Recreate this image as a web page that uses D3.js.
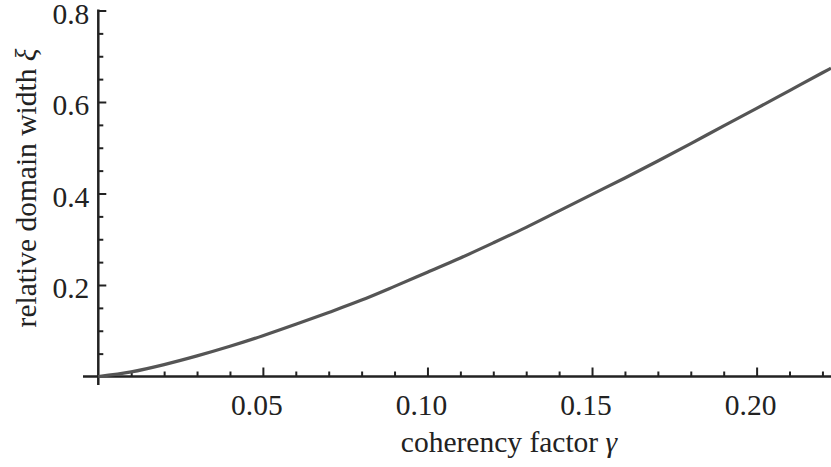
<!DOCTYPE html>
<html>
<head>
<meta charset="utf-8">
<script src="https://cdn.jsdelivr.net/npm/d3@7"></script>
<style>
  body { margin: 0; background: #fff; }
</style>
</head>
<body>
<div class="my-graph"></div>
<script>
// values
const gamma = [0, 0.01, 0.02, 0.03, 0.04, 0.05, 0.06, 0.07, 0.08, 0.09, 0.10, 0.11,
  0.12, 0.13, 0.14, 0.15, 0.16, 0.17, 0.18, 0.19, 0.20, 0.21, 0.22, 0.2226]
const xi = [0, 0.010, 0.026, 0.045, 0.066, 0.089, 0.114, 0.140, 0.167, 0.197, 0.228, 0.259,
  0.292, 0.326, 0.362, 0.398, 0.434, 0.471, 0.509, 0.548, 0.586, 0.625, 0.664, 0.674]

const xMajor = [0.05, 0.10, 0.15, 0.20]
const xMinor = [0.01, 0.02, 0.03, 0.04, 0.06, 0.07, 0.08, 0.09, 0.11, 0.12, 0.13, 0.14,
  0.16, 0.17, 0.18, 0.19, 0.21, 0.22]
const yMajor = [0.2, 0.4, 0.6, 0.8]
const yMinor = [0.05, 0.1, 0.15, 0.25, 0.3, 0.35, 0.45, 0.5, 0.55, 0.65, 0.7, 0.75]

const xTitle = 'coherency factor '
const yTitle = 'relative domain width '

const width = 831
const height = 467
const font = 'Liberation Serif'
const fontSize = 29.5
const textColor = '#222'

const dataset = gamma.map((g, i) => ({ x: g, y: xi[i] }))

const xScale = d3.scaleLinear()
  .domain([0, 0.2226])
  .range([98.3, 831])

const yScale = d3.scaleLinear()
  .domain([0, 0.8])
  .range([376.5, 10.5])

const svg = d3.select('.my-graph')
  .append('svg')
  .attr('width', width)
  .attr('height', height)

const axisColor = '#222'

// x axis: inward ticks
const gx = svg.append('g').attr('transform', `translate(0, ${yScale(0)})`)
gx.append('line')
  .attr('x1', 83).attr('x2', width)
  .attr('stroke', axisColor).attr('stroke-width', 2.5)
gx.append('g')
  .call(d3.axisTop(xScale).tickValues(xMinor).tickSize(5).tickFormat(''))
gx.append('g')
  .call(d3.axisTop(xScale).tickValues(xMajor).tickSize(9).tickFormat(''))
gx.selectAll('.domain').remove()
gx.selectAll('.tick line').attr('stroke', axisColor).attr('stroke-width', 2)

gx.selectAll('.xlabel')
  .data(xMajor)
  .enter().append('text')
  .attr('x', d => xScale(d) - 6)
  .attr('y', 38.5)
  .attr('text-anchor', 'middle')
  .attr('font-family', font)
  .attr('font-size', fontSize)
  .attr('fill', textColor)
  .text(d => d3.format('.2f')(d))

// y axis
const gy = svg.append('g').attr('transform', `translate(${xScale(0)}, 0)`)
gy.append('line')
  .attr('y1', yScale(0.8) - 1).attr('y2', 385)
  .attr('stroke', axisColor).attr('stroke-width', 2.5)
gy.append('g')
  .call(d3.axisRight(yScale).tickValues(yMinor).tickSize(5).tickFormat(''))
gy.append('g')
  .call(d3.axisRight(yScale).tickValues(yMajor).tickSize(8).tickFormat(''))
gy.selectAll('.domain').remove()
gy.selectAll('.tick line').attr('stroke', axisColor).attr('stroke-width', 2)

gy.selectAll('.ylabel')
  .data(yMajor)
  .enter().append('text')
  .attr('x', -9)
  .attr('y', d => yScale(d) + 13)
  .attr('text-anchor', 'end')
  .attr('font-family', font)
  .attr('font-size', fontSize)
  .attr('fill', textColor)
  .text(d => d3.format('.1f')(d))

// axis titles
const tx = svg.append('text')
  .attr('x', 509)
  .attr('y', 451.7)
  .attr('text-anchor', 'middle')
  .attr('font-family', font)
  .attr('font-size', fontSize)
  .attr('fill', textColor)
tx.append('tspan').text(xTitle)
tx.append('tspan').attr('font-style', 'italic').text('γ')

const ty = svg.append('text')
  .attr('transform', 'translate(36, 188) rotate(-90)')
  .attr('text-anchor', 'middle')
  .attr('font-family', font)
  .attr('font-size', fontSize)
  .attr('fill', textColor)
ty.append('tspan').text(yTitle)
ty.append('tspan').attr('font-style', 'italic').text('ξ')

// curve
const line = d3.line()
  .x(d => xScale(d.x))
  .y(d => yScale(d.y))
  .curve(d3.curveMonotoneX)

svg.append('path')
  .datum(dataset)
  .attr('fill', 'none')
  .attr('stroke', '#555')
  .attr('stroke-width', 3.2)
  .attr('d', line)
</script>
</body>
</html>
